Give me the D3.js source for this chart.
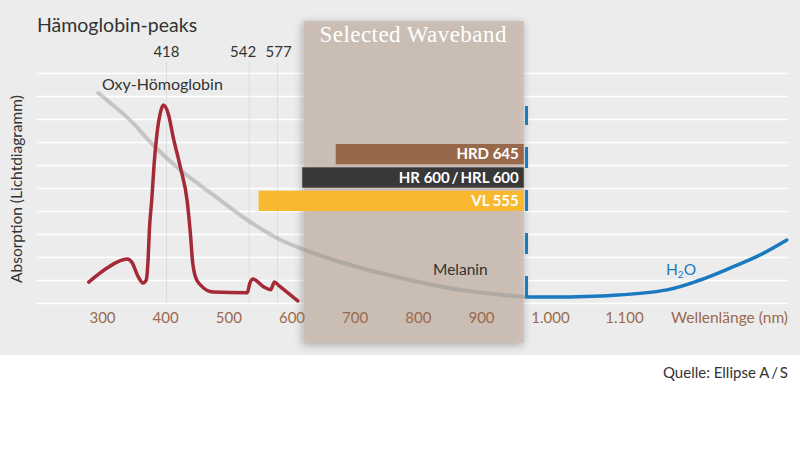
<!DOCTYPE html>
<html>
<head>
<meta charset="utf-8">
<script src="https://cdn.jsdelivr.net/npm/d3@7"></script>
<style>
  html, body { margin: 0; padding: 0; background: #fff; }
  svg { display: block; font-family: "Lato", "Open Sans", sans-serif; }
</style>
</head>
<body>
<svg id="chart" width="800" height="449"></svg>
<script>
/* ---- data ---- */
const wavelengthTicks = [300, 400, 500, 600, 700, 800, 900, 1000, 1100];
const tickLabels = ["300", "400", "500", "600", "700", "800", "900", "1.000", "1.100"];

// haemoglobin absorption [nm, relative absorption]
const hemoglobin = [
  [279, 0.91], [308, 1.52], [324, 1.78], [340, 1.91], [348, 1.74], [356, 1.22],
  [365, 0.87], [370, 1.0], [373, 1.9], [375, 3.17], [379, 4.57], [382.5, 6.04],
  [387, 7.35], [392, 8.22], [397, 8.61], [405, 8.22], [413, 7.17], [424, 5.91],
  [435, 4.4], [440, 3.0], [443, 1.9], [448, 1.13], [456, 0.78], [476, 0.48],
  [530, 0.45], [534, 0.85], [539, 1.04], [556, 0.7], [567, 0.58], [573, 0.91],
  [580, 0.76], [610, 0.09]
];

// melanin curve
const melanin = [
  [294, 9.13], [344, 7.96], [381, 6.87], [424, 5.78], [476, 4.7], [530, 3.61],
  [583, 2.74], [635, 2.17], [710, 1.52], [773, 1.09], [868, 0.57], [963, 0.26]
];

// water curve
const water = [
  [966, 0.26], [1014, 0.26], [1068, 0.3], [1158, 0.57], [1203, 1.0],
  [1247, 1.57], [1284, 2.09], [1320, 2.74]
];

// peak markers: label + position on the wavelength scale
const peakLabels = ["418", "542", "577"];
const peakPositions = [402, 533, 578];
const peakLabelNudge = [0, -6, 1];

// selected waveband and filters
const waveband = [619, 962];
const filterNames = ["HRD 645", "HR 600\u2009/\u2009HRL 600", "VL 555"];
const filterStarts = [670, 617, 548];
const filterColors = ["#98684a", "#383838", "#f8b931"];

const waterMarkerTop = 8.57;

/* ---- setup ---- */
const svg = d3.select("#chart");
const brown = "#9a6a4c";

const x = d3.scaleLinear()
  .domain([300, 900, 1000, 1100])
  .range([102, 481, 550, 624]);

const y = d3.scaleLinear()
  .domain([0, 10])
  .range([303, 73]);

const rows = d3.scaleBand()
  .domain(filterNames)
  .range([144, 211])
  .paddingInner(0.13);

// drop shadow for the band
const defs = svg.append("defs");
defs.append("filter").attr("id", "shadow")
  .attr("x", "-10%").attr("y", "-10%").attr("width", "120%").attr("height", "120%")
  .append("feDropShadow")
  .attr("dx", -1).attr("dy", 2).attr("stdDeviation", 4)
  .attr("flood-color", "#000").attr("flood-opacity", 0.33);

// background
svg.append("rect").attr("width", 800).attr("height", 355).attr("fill", "#ececec");

// grid
svg.append("g")
  .attr("transform", "translate(37,0)")
  .call(d3.axisLeft(y).ticks(10).tickSize(-751).tickFormat(""))
  .call(g => g.select(".domain").remove())
  .call(g => g.selectAll("line").attr("stroke", "#fff").attr("stroke-width", 1.5));

// peak lines
svg.append("g").selectAll("line")
  .data(peakPositions)
  .join("line")
  .attr("x1", d => x(d)).attr("x2", d => x(d))
  .attr("y1", 62).attr("y2", y(0))
  .attr("stroke", "#dcdcdc").attr("stroke-width", 1);

svg.append("g").selectAll("text")
  .data(peakLabels)
  .join("text")
  .attr("x", (d, i) => x(peakPositions[i]) + peakLabelNudge[i])
  .attr("y", 57)
  .attr("text-anchor", "middle")
  .attr("font-size", 15)
  .attr("fill", "#333")
  .text(d => d);

// selected waveband
svg.append("rect")
  .attr("x", x(waveband[0]))
  .attr("y", 21)
  .attr("width", x(waveband[1]) - x(waveband[0]))
  .attr("height", 322)
  .attr("fill", "#cbbcb0")
  .attr("fill-opacity", 0.88)
  .attr("filter", "url(#shadow)");

svg.append("text")
  .attr("x", x(waveband[0]) + 16)
  .attr("y", 42)
  .attr("font-family", "'Liberation Serif', 'DejaVu Serif', serif")
  .attr("font-size", 23)
  .attr("letter-spacing", 0.45)
  .attr("fill", "#fff")
  .text("Selected Waveband");

const smooth = d3.line()
  .x(d => x(d[0]))
  .y(d => y(d[1]))
  .curve(d3.curveCatmullRom.alpha(0.5));

const monotone = d3.line()
  .x(d => x(d[0]))
  .y(d => y(d[1]))
  .curve(d3.curveMonotoneX);

// melanin
svg.append("path")
  .datum(melanin)
  .attr("d", smooth)
  .attr("fill", "none")
  .attr("stroke", "#8a8a8a")
  .attr("stroke-opacity", 0.4)
  .attr("stroke-width", 4)
  .attr("stroke-linecap", "round");

// haemoglobin
svg.append("path")
  .datum(hemoglobin)
  .attr("d", monotone)
  .attr("fill", "none")
  .attr("stroke", "#a52a38")
  .attr("stroke-width", 3.5)
  .attr("stroke-linecap", "round")
  .attr("stroke-linejoin", "round");

// filter bars
const bars = svg.append("g");
bars.selectAll("rect")
  .data(filterNames)
  .join("rect")
  .attr("x", (d, i) => x(filterStarts[i]))
  .attr("y", d => rows(d))
  .attr("width", (d, i) => x(waveband[1]) - x(filterStarts[i]))
  .attr("height", rows.bandwidth())
  .attr("fill", (d, i) => filterColors[i]);

bars.selectAll("text")
  .data(filterNames)
  .join("text")
  .attr("x", x(waveband[1]) - 5)
  .attr("y", d => rows(d) + rows.bandwidth() / 2 + 5)
  .attr("text-anchor", "end")
  .attr("font-size", 15)
  .attr("font-weight", "bold")
  .attr("fill", "#fff")
  .text(d => d);

// water: dashed marker + curve
svg.append("line")
  .attr("x1", x(water[0][0])).attr("x2", x(water[0][0]))
  .attr("y1", y(water[0][1])).attr("y2", y(waterMarkerTop))
  .attr("stroke", "#1a7abf")
  .attr("stroke-width", 3)
  .attr("stroke-dasharray", "21,22");

svg.append("path")
  .datum(water)
  .attr("d", smooth)
  .attr("fill", "none")
  .attr("stroke", "#1a7abf")
  .attr("stroke-width", 3.5)
  .attr("stroke-linecap", "round");

// x axis
svg.append("g")
  .attr("transform", `translate(0,${y(0)})`)
  .call(d3.axisBottom(x).tickValues(wavelengthTicks).tickSize(0).tickPadding(9)
    .tickFormat((d, i) => tickLabels[i]))
  .call(g => g.select(".domain").remove())
  .call(g => g.selectAll("text")
    .attr("font-family", "Lato, 'Open Sans', sans-serif")
    .attr("font-size", 15)
    .attr("fill", brown));

svg.append("text")
  .attr("x", 788).attr("y", 323)
  .attr("text-anchor", "end")
  .attr("font-size", 15.5)
  .attr("fill", brown)
  .text("Wellenlänge (nm)");

// labels
svg.append("text")
  .attr("x", 37).attr("y", 32)
  .attr("font-size", 19.5)
  .attr("fill", "#333")
  .text("Hämoglobin-peaks");

svg.append("text")
  .attr("x", 102).attr("y", 90)
  .attr("font-size", 16)
  .attr("fill", "#333")
  .text("Oxy-Hömoglobin");

svg.append("text")
  .attr("x", 433).attr("y", 275)
  .attr("font-size", 15.5)
  .attr("fill", "#333")
  .text("Melanin");

const h2o = svg.append("text")
  .attr("x", 666).attr("y", 275)
  .attr("font-size", 15.5)
  .attr("fill", "#1a7abf");
h2o.append("tspan").text("H");
h2o.append("tspan").attr("font-size", 10).attr("dy", 3).text("2");
h2o.append("tspan").attr("dy", -3).text("O");

svg.append("text")
  .attr("transform", "translate(22,189) rotate(-90)")
  .attr("text-anchor", "middle")
  .attr("font-size", 15.5)
  .attr("fill", "#333")
  .text("Absorption (Lichtdiagramm)");

svg.append("text")
  .attr("x", 788).attr("y", 378)
  .attr("text-anchor", "end")
  .attr("font-size", 15)
  .attr("fill", "#333")
  .text("Quelle: Ellipse A\u2009/\u2009S");
</script>
</body>
</html>
